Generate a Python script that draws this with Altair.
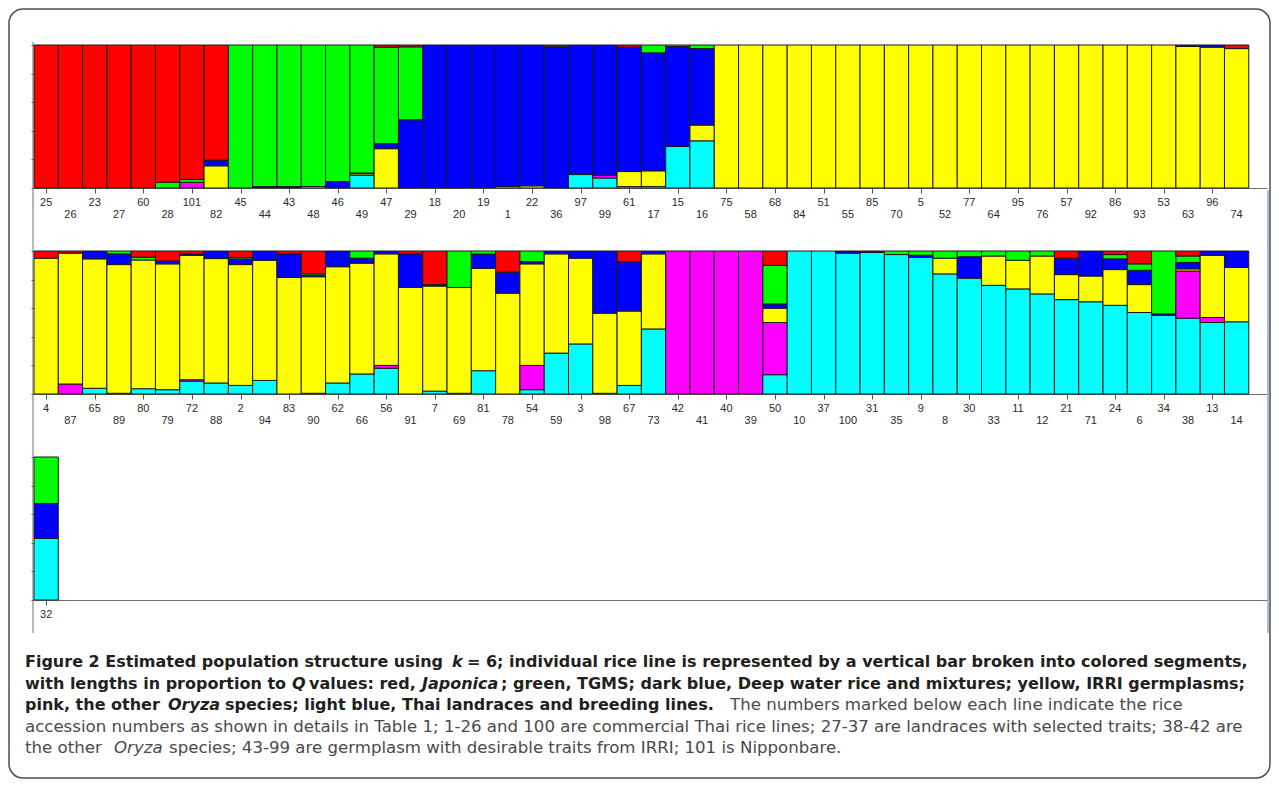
import altair as alt
import pandas as pd

# ---- accession labels, in plotted order (rows of 50, 50, 1) ----
labels = [
    "25", "26", "23", "27", "60", "28", "101", "82", "45", "44", "43", "48", "46", "49", "47", "29",
    "18", "20", "19", "1", "22", "36", "97", "99", "61", "17", "15", "16", "75", "58", "68", "84",
    "51", "55", "85", "70", "5", "52", "77", "64", "95", "76", "57", "92", "86", "93", "53", "63", "96", "74",
    "4", "87", "65", "89", "80", "79", "72", "88", "2", "94", "83", "90", "62", "66", "56", "91",
    "7", "69", "81", "78", "54", "59", "3", "98", "67", "73", "42", "41", "40", "39", "50", "10",
    "37", "100", "31", "35", "9", "8", "30", "33", "11", "12", "21", "71", "24", "6", "34", "38", "13", "14",
    "32",
]

# ---- Q values per cluster (bottom to top stacking: cyan, pink, yellow, blue, green, red) ----
q_cyan = [
    0, 0, 0, 0, 0, 0, 0, 0, 0, 0, 0, 0, 0, 0.09, 0, 0,
    0, 0, 0, 0, 0, 0, 0.094, 0.07, 0.01, 0.01, 0.29, 0.33, 0, 0, 0, 0,
    0, 0, 0, 0, 0, 0, 0, 0, 0, 0, 0, 0, 0, 0, 0, 0, 0, 0,
    0, 0, 0.04, 0.005, 0.037, 0.03, 0.09, 0.077, 0.06, 0.095, 0, 0.005, 0.077, 0.14, 0.18, 0,
    0.02, 0.005, 0.163, 0, 0.03, 0.286, 0.35, 0.005, 0.06, 0.455, 0, 0, 0, 0, 0.135, 1.0,
    1.0, 0.985, 0.99, 0.975, 0.955, 0.84, 0.81, 0.76, 0.735, 0.70, 0.66, 0.645, 0.62, 0.57, 0.55, 0.53, 0.50, 0.505,
    0.43,
]
q_pink = [
    0, 0, 0, 0, 0, 0, 0.04, 0, 0, 0, 0, 0, 0, 0, 0, 0,
    0, 0, 0, 0, 0, 0, 0, 0.02, 0, 0, 0, 0, 0, 0, 0, 0,
    0, 0, 0, 0, 0, 0, 0, 0, 0, 0, 0, 0, 0, 0, 0, 0, 0, 0,
    0, 0.07, 0, 0, 0, 0, 0.01, 0, 0, 0, 0, 0, 0, 0, 0.02, 0,
    0, 0, 0, 0, 0.17, 0, 0, 0, 0, 0, 1.0, 1.0, 1.0, 1.0, 0.365, 0,
    0, 0, 0, 0, 0, 0, 0, 0, 0, 0, 0, 0, 0, 0, 0, 0.33, 0.035, 0,
    0,
]
q_yellow = [
    0, 0, 0, 0, 0, 0, 0, 0.155, 0, 0, 0, 0.01, 0, 0.01, 0.275, 0,
    0, 0, 0, 0.01, 0.015, 0, 0, 0, 0.105, 0.11, 0, 0.11, 1.0, 1.0, 1.0, 1.0,
    1.0, 1.0, 1.0, 1.0, 1.0, 1.0, 1.0, 1.0, 1.0, 1.0, 1.0, 1.0, 1.0, 1.0, 1.0, 0.99, 0.985, 0.975,
    0.95, 0.915, 0.905, 0.90, 0.90, 0.88, 0.87, 0.87, 0.845, 0.84, 0.815, 0.815, 0.813, 0.775, 0.78, 0.745,
    0.735, 0.74, 0.716, 0.705, 0.71, 0.694, 0.60, 0.56, 0.52, 0.525, 0, 0, 0, 0, 0.10, 0,
    0, 0, 0, 0, 0, 0.11, 0, 0.205, 0.20, 0.265, 0.175, 0.18, 0.25, 0.195, 0, 0.015, 0.435, 0.38,
    0,
]
q_blue = [
    0, 0, 0, 0, 0, 0, 0, 0.04, 0, 0.01, 0.01, 0, 0.045, 0.005, 0.035, 0.477,
    1.0, 1.0, 1.0, 0.99, 0.985, 0.99, 0.906, 0.91, 0.87, 0.825, 0.70, 0.535, 0, 0, 0, 0,
    0, 0, 0, 0, 0, 0, 0, 0, 0, 0, 0, 0, 0, 0, 0, 0.01, 0.015, 0,
    0, 0, 0.055, 0.075, 0, 0.02, 0.01, 0.053, 0.04, 0.065, 0.165, 0.01, 0.11, 0.035, 0.02, 0.235,
    0.01, 0, 0.10, 0.147, 0.015, 0.02, 0.05, 0.435, 0.345, 0.02, 0, 0, 0, 0, 0.03, 0,
    0, 0.015, 0.01, 0, 0.015, 0, 0.15, 0, 0, 0, 0.115, 0.175, 0.075, 0.10, 0.01, 0.045, 0.03, 0.115,
    0.245,
]
q_green = [
    0, 0, 0, 0, 0, 0.04, 0.02, 0, 1.0, 0.99, 0.99, 0.99, 0.955, 0.895, 0.675, 0.51,
    0, 0, 0, 0, 0, 0, 0, 0, 0, 0.055, 0.01, 0.025, 0, 0, 0, 0,
    0, 0, 0, 0, 0, 0, 0, 0, 0, 0, 0, 0, 0, 0, 0, 0, 0, 0,
    0, 0, 0, 0.02, 0.02, 0, 0, 0, 0.01, 0, 0, 0.01, 0, 0.05, 0, 0,
    0, 0.255, 0.021, 0, 0.075, 0, 0, 0, 0, 0, 0, 0, 0, 0, 0.27, 0,
    0, 0, 0, 0.025, 0.03, 0.05, 0.04, 0.035, 0.065, 0.035, 0, 0, 0.03, 0.045, 0.44, 0.045, 0, 0,
    0.325,
]
q_red = [
    1.0, 1.0, 1.0, 1.0, 1.0, 0.96, 0.94, 0.805, 0, 0, 0, 0, 0, 0, 0.015, 0.013,
    0, 0, 0, 0, 0, 0.01, 0, 0, 0.015, 0, 0, 0, 0, 0, 0, 0,
    0, 0, 0, 0, 0, 0, 0, 0, 0, 0, 0, 0, 0, 0, 0, 0, 0, 0.025,
    0.05, 0.015, 0, 0, 0.043, 0.07, 0.02, 0, 0.045, 0, 0.02, 0.16, 0, 0, 0, 0.02,
    0.235, 0, 0, 0.148, 0, 0, 0, 0, 0.075, 0, 0, 0, 0, 0, 0.10, 0,
    0, 0, 0, 0, 0, 0, 0, 0, 0, 0, 0.05, 0, 0.025, 0.09, 0, 0.035, 0, 0,
    0,
]

clusters = ["Thai landraces and breeding lines", "other Oryza species", "IRRI germplasms",
            "Deep water rice and mixtures", "TGMS", "Japonica"]
cluster_colors = ["#00FFFF", "#FF00FF", "#FFFF00", "#0000FF", "#00FF00", "#FF0000"]
series = [q_cyan, q_pink, q_yellow, q_blue, q_green, q_red]

PER_ROW = 50
rows = []
for i, lab in enumerate(labels):
    for k, (name, arr) in enumerate(zip(clusters, series)):
        rows.append({"bar": i, "panel": i // PER_ROW, "pos": i % PER_ROW,
                     "label": lab, "cluster": name, "order": k, "q": arr[i]})
df = pd.DataFrame(rows)
lab_df = pd.DataFrame({"bar": list(range(len(labels))),
                       "panel": [i // PER_ROW for i in range(len(labels))],
                       "pos": [i % PER_ROW for i in range(len(labels))],
                       "label": labels})

W = 1233
H = 143
XDOM = [0, 50.75]
LABEL_FONT = "Liberation Sans"


def panel(p, n):
    xscale = alt.Scale(domain=XDOM, nice=False, zero=False)
    bars = (
        alt.Chart(df)
        .transform_filter(f"datum.panel == {p}")
        .transform_stack(stack="q", groupby=["bar"], as_=["q0", "q1"],
                         sort=[alt.SortField(field="order", order="ascending")],
                         offset="normalize")
        .transform_filter("datum.q > 0")
        .transform_calculate(x0="datum.pos", x1="datum.pos + 1")
        .mark_rect(stroke="#1a1a1a", strokeWidth=1)
        .encode(
            x=alt.X("x0:Q", scale=xscale,
                    axis=alt.Axis(values=[i + 0.5 for i in range(n)], labels=False,
                                  tickSize=5, tickColor="#555555", domainColor="#6e6e6e",
                                  grid=False, title=None)),
            x2="x1:Q",
            y=alt.Y("q0:Q", scale=alt.Scale(domain=[0, 1], nice=False),
                    axis=alt.Axis(values=[0, 0.2, 0.4, 0.6, 0.8, 1.0], labels=False,
                                  tickSize=3, tickColor="#555555", domain=False,
                                  grid=False, title=None)),
            y2="q1:Q",
            color=alt.Color("cluster:N", scale=alt.Scale(domain=clusters, range=cluster_colors),
                            legend=None),
        )
    )
    txt = []
    for parity, dy in ((0, 15), (1, 27)):
        txt.append(
            alt.Chart(lab_df)
            .transform_filter(f"datum.panel == {p} && datum.pos % 2 == {parity}")
            .transform_calculate(x0="datum.pos + 0.5")
            .mark_text(font=LABEL_FONT, fontSize=11, color="#2b2b2b", baseline="middle")
            .encode(x=alt.X("x0:Q", scale=xscale, title=None), y=alt.value(H + dy),
                    text="label:N")
        )
    return alt.layer(bars, *txt).properties(width=W, height=H)


# ---- caption (panel origin is at the plot's left edge) ----
CAP_FONT = "DejaVu Sans"
BOLD_SIZE = 16
REG_SIZE = 16.6
BOLD_COLOR = "#231f20"
REG_COLOR = "#4a4a4a"
OX = 34
line_y = [-1, 20.5, 42, 63.5, 85]
segments = [
    (0, "Figure 2 Estimated population structure using", 25, "b"),
    (0, "k", 452, "bi"),
    (0, "= 6; individual rice line is represented by a vertical bar broken into colored segments,", 467, "b"),
    (1, "with lengths in proportion to", 25, "b"),
    (1, "Q", 292, "bi"),
    (1, "values: red,", 309, "b"),
    (1, "Japonica", 422, "bi"),
    (1, "; green, TGMS; dark blue, Deep water rice and mixtures; yellow, IRRI germplasms;", 501, "b"),
    (2, "pink, the other", 25, "b"),
    (2, "Oryza", 168, "bi"),
    (2, "species; light blue, Thai landraces and breeding lines.", 225, "b"),
    (2, "The numbers marked below each line indicate the rice", 730, "r"),
    (3, "accession numbers as shown in details in Table 1; 1-26 and 100 are commercial Thai rice lines; 27-37 are landraces with selected traits; 38-42 are", 25, "r"),
    (4, "the other", 25, "r"),
    (4, "Oryza", 114, "ri"),
    (4, "species; 43-99 are germplasm with desirable traits from IRRI; 101 is Nipponbare.", 169, "r"),
]
blank = alt.Data(values=[{"a": 1}])
cap_layers = []
for ln, t, xpix, st in segments:
    kw = dict(text=t, align="left", baseline="middle", font=CAP_FONT)
    if st.startswith("b"):
        kw.update(fontWeight="bold", color=BOLD_COLOR, fontSize=BOLD_SIZE)
    else:
        kw.update(fontWeight="normal", color=REG_COLOR, fontSize=REG_SIZE)
    if st.endswith("i"):
        kw.update(fontStyle="italic")
    cap_layers.append(alt.Chart(blank).mark_text(**kw).encode(x=alt.value(xpix - OX), y=alt.value(line_y[ln])))

frame = alt.Chart(blank).mark_rect(fillOpacity=0, stroke="#4d4d4d", strokeWidth=1.5, cornerRadius=14).encode(
    x=alt.value(-25), x2=alt.value(1236), y=alt.value(-654), y2=alt.value(115))
left_line = alt.Chart(blank).mark_rule(color="#6e6e6e", strokeWidth=1).encode(
    x=alt.value(-1), y=alt.value(-621), y2=alt.value(-30))
right_line = alt.Chart(blank).mark_rule(color="#a9bcd6", strokeWidth=2).encode(
    x=alt.value(1234), y=alt.value(-473), y2=alt.value(-30))

caption = alt.layer(frame, left_line, right_line, *cap_layers).properties(width=W, height=110)

chart = alt.vconcat(panel(0, 50), panel(1, 50), panel(2, 1), caption, spacing=63, bounds="flush").properties(
    padding=0
).configure_view(stroke=None).configure_axis(domainWidth=1, tickWidth=1)

chart.save("out.html", embed_options={"renderer": "svg", "actions": False})
